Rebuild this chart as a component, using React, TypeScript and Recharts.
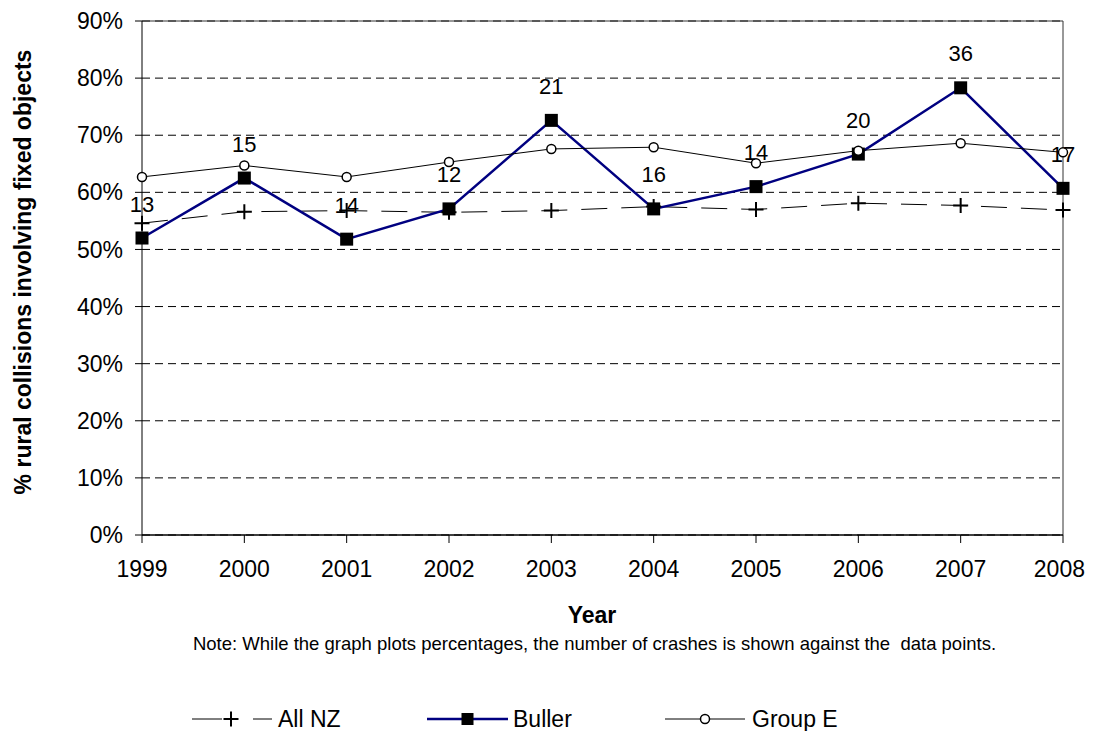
import React from "react";
import {
  LineChart,
  Line,
  XAxis,
  YAxis,
  CartesianGrid,
  ReferenceLine,
  LabelList,
} from "recharts";

const years = [1999, 2000, 2001, 2002, 2003, 2004, 2005, 2006, 2007, 2008];
const allNZ = [54.6, 56.6, 56.8, 56.5, 56.8, 57.5, 57.0, 58.1, 57.7, 56.9];
const buller = [52.0, 62.5, 51.8, 57.1, 72.6, 57.1, 61.0, 66.7, 78.3, 60.7];
const groupE = [62.7, 64.7, 62.7, 65.3, 67.6, 67.9, 65.1, 67.3, 68.6, 67.0];
const bullerCrashes = [13, 15, 14, 12, 21, 16, 14, 20, 36, 17];
const yTicks = [0, 10, 20, 30, 40, 50, 60, 70, 80, 90];

const data = years.map((y, i) => ({
  year: y,
  allNZ: allNZ[i],
  buller: buller[i],
  groupE: groupE[i],
  crashes: bullerCrashes[i],
}));

const FONT = "'Liberation Sans', Arial, sans-serif";
const W = 1078;
const H = 723;

const PlusDot = (props: any) => {
  const { cx, cy, index } = props;
  if (cx == null || cy == null) return null;
  return (
    <path
      key={`p${index}`}
      d={`M${cx - 7.5},${cy}H${cx + 7.5}M${cx},${cy - 7.5}V${cy + 7.5}`}
      stroke="#000"
      strokeWidth={2}
      fill="none"
    />
  );
};

const SquareDot = (props: any) => {
  const { cx, cy, index } = props;
  if (cx == null || cy == null) return null;
  return <rect key={`s${index}`} x={cx - 6.5} y={cy - 6.5} width={13} height={13} fill="#000" />;
};

const CircleDot = (props: any) => {
  const { cx, cy, index } = props;
  if (cx == null || cy == null) return null;
  return <circle key={`c${index}`} cx={cx} cy={cy} r={4.5} fill="#fff" stroke="#000" strokeWidth={1.5} />;
};

const CountLabel = (props: any) => {
  const { x, y, value, index } = props;
  return (
    <text
      key={`l${index}`}
      x={x}
      y={y - 34}
      textAnchor="middle"
      dominantBaseline="central"
      fontFamily={FONT}
      fontSize={22}
      fill="#000"
    >
      {value}
    </text>
  );
};

const XTick = (props: any) => {
  const { x, y, payload } = props;
  const half = 26;
  const overflow = x + half > W - 1;
  return (
    <text
      x={overflow ? W - 1 : x}
      y={y}
      dy="0.71em"
      textAnchor={overflow ? "end" : "middle"}
      fontFamily={FONT}
      fontSize={23}
      fill="#000"
    >
      {payload.value}
    </text>
  );
};

export default function App() {
  return (
    <div style={{ position: "relative", width: W, height: H, fontFamily: FONT }}>
      <LineChart
        width={W}
        height={H}
        data={data}
        margin={{ top: 13, right: 23, left: 0, bottom: 0 }}
      >
        <CartesianGrid horizontal vertical={false} stroke="#000" strokeDasharray="8 5" />
        <XAxis
          dataKey="year"
          type="number"
          domain={[1999, 2008]}
          ticks={years}
          height={196}
          tickSize={8}
          tickMargin={18}
          axisLine={{ stroke: "#000", strokeWidth: 1.5 }}
          tickLine={{ stroke: "#000" }}
          tick={<XTick />}
          interval={0}
        />
        <YAxis
          type="number"
          domain={[0, 90]}
          ticks={yTicks}
          width={134}
          tickSize={7}
          tickMargin={12}
          tickFormatter={(v: number) => `${v}%`}
          axisLine={{ stroke: "#000" }}
          tickLine={{ stroke: "#000" }}
          tick={{ fill: "#000", fontSize: 23, fontFamily: FONT }}
          interval={0}
        />
        <ReferenceLine y={90} stroke="#333" strokeWidth={1} />
        <ReferenceLine x={2008} stroke="#333" strokeWidth={1} />
        <Line
          dataKey="allNZ"
          stroke="#000"
          strokeWidth={1}
          strokeDasharray="26 14"
          dot={PlusDot}
          activeDot={false}
          isAnimationActive={false}
        />
        <Line
          dataKey="buller"
          stroke="#000080"
          strokeWidth={2.5}
          dot={SquareDot}
          activeDot={false}
          isAnimationActive={false}
        />
        <Line
          dataKey="groupE"
          stroke="#000"
          strokeWidth={1}
          dot={CircleDot}
          activeDot={false}
          isAnimationActive={false}
        />
        <Line
          dataKey="buller"
          stroke="none"
          dot={false}
          activeDot={false}
          isAnimationActive={false}
        >
          <LabelList dataKey="crashes" content={CountLabel} />
        </Line>
      </LineChart>

      <div
        style={{
          position: "absolute",
          left: 15,
          top: 264,
          transform: "translate(-50%, -50%) rotate(-90deg)",
          whiteSpace: "nowrap",
          fontWeight: "bold",
          fontSize: 23,
          color: "#000",
        }}
      >
        % rural collisions involving fixed objects
      </div>

      <div
        style={{
          position: "absolute",
          left: 584,
          top: 607,
          transform: "translate(-50%, -50%)",
          whiteSpace: "nowrap",
          fontWeight: "bold",
          fontSize: 23,
          color: "#000",
        }}
      >
        Year
      </div>

      <div
        style={{
          position: "absolute",
          left: 586.5,
          top: 636,
          transform: "translate(-50%, -50%)",
          whiteSpace: "pre",
          fontSize: 18.5,
          color: "#000",
        }}
      >
        {"Note: While the graph plots percentages, the number of crashes is shown against the  data points."}
      </div>

      <svg
        style={{ position: "absolute", left: 0, top: 0, pointerEvents: "none" }}
        width={W}
        height={H}
      >
        <g>
          <line x1={184} y1={711} x2={214} y2={711} stroke="#000" strokeWidth={1} />
          <path d="M215.5,711H230.5M223,703.5V718.5" stroke="#000" strokeWidth={2} />
          <line x1={245} y1={711} x2={264} y2={711} stroke="#000" strokeWidth={1} />
          <text x={270} y={711} dominantBaseline="central" fontFamily={FONT} fontSize={23} fill="#000">
            All NZ
          </text>
        </g>
        <g>
          <line x1={419} y1={711} x2={500} y2={711} stroke="#000080" strokeWidth={2.5} />
          <rect x={453.5} y={705} width={12} height={12} fill="#000" />
          <text x={505} y={711} dominantBaseline="central" fontFamily={FONT} fontSize={23} fill="#000">
            Buller
          </text>
        </g>
        <g>
          <line x1={657} y1={711} x2={737} y2={711} stroke="#000" strokeWidth={1} />
          <circle cx={697} cy={711} r={4.5} fill="#fff" stroke="#000" strokeWidth={1.5} />
          <text x={744} y={711} dominantBaseline="central" fontFamily={FONT} fontSize={23} fill="#000">
            Group E
          </text>
        </g>
      </svg>
    </div>
  );
}
